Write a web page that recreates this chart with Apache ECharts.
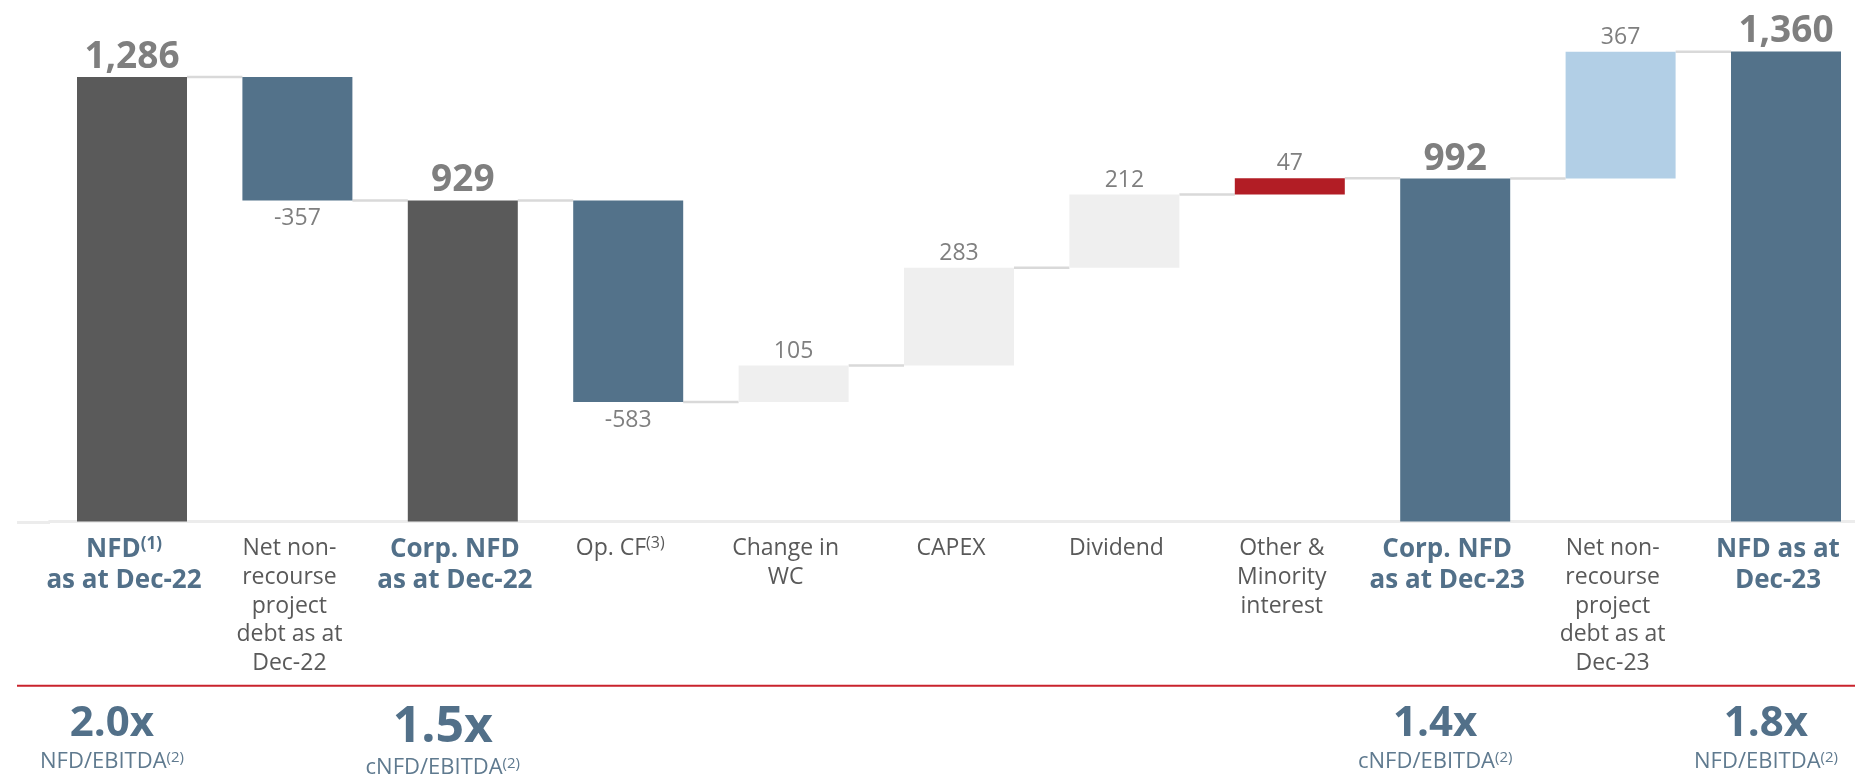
<!DOCTYPE html>
<html><head><meta charset="utf-8">
<script src="https://cdn.jsdelivr.net/npm/echarts@6/dist/echarts.min.js"></script>
<style>html,body{margin:0;padding:0;background:#fff}#c{width:1855px;height:779px}</style>
</head><body><div id="c"></div>
<script>
// ---- data ----
const categories = ['NFD^(1)\nas at Dec-22', 'Net non-\nrecourse\nproject\ndebt as at\nDec-22', 'Corp. NFD\nas at Dec-22', 'Op. CF^(3)', 'Change in\nWC', 'CAPEX', 'Dividend', 'Other &\nMinority\ninterest', 'Corp. NFD\nas at Dec-23', 'Net non-\nrecourse\nproject\ndebt as at\nDec-23', 'NFD as at\nDec-23'];
const values = [1286, -357, 929, -583, 105, 283, 212, 47, 992, 367, 1360];
const isTotal = [true, false, true, false, false, false, false, false, true, false, true];
const ratioValues = ['2.0x', '', '1.5x', '', '', '', '', '', '1.4x', '', '1.8x'];
const ratioNames = ['NFD/EBITDA^(2)', '', 'cNFD/EBITDA^(2)', '', '', '', '', '', 'cNFD/EBITDA^(2)', '', 'NFD/EBITDA^(2)'];

// ---- styles ----
const barColors = ['#5a5a5a', '#53728a', '#5a5a5a', '#53728a', '#efefef', '#efefef', '#efefef', '#b21d25', '#53728a', '#b2cfe6', '#53728a'];
const ratioShift = [20, 0, 4, 0, 0, 0, 0, 0, 20, 0, 8];
const FONT = "'Open Sans', 'Noto Sans', sans-serif";
const BLUE = '#527089';
const BAR_W = 110;

// ---- waterfall geometry from values ----
let run = 0; const base = [], height = [], level = [];
values.forEach((v, i) => {
  if (isTotal[i]) { base.push(0); height.push(v); run = v; }
  else { base.push(Math.min(run, run + v)); height.push(Math.abs(v)); run += v; }
  level.push(run);
});

function richLine(line, mainStyle, supStyle) {
  const k = line.indexOf('^');
  if (k < 0) return '{' + mainStyle + '|' + line + '}';
  return '{' + mainStyle + '|' + line.slice(0, k) + '}{' + supStyle + '|' + line.slice(k + 1) + '}';
}

const chart = echarts.init(document.getElementById('c'));
chart.setOption({
  animation: false,
  backgroundColor: '#ffffff',
  grid: { left: 49.3, width: 1819.4, top: 3, bottom: 257.5, containLabel: false, outerBoundsMode: 'none' },
  xAxis: [
    {
      type: 'category', data: categories, gridIndex: 0,
      axisLine: { show: true, lineStyle: { color: '#ececec', width: 3 } },
      axisTick: { show: false },
      axisLabel: {
        interval: 0, margin: 13, padding: [0, 16, 0, 0],
        fontFamily: FONT, fontSize: 23, color: '#595959', lineHeight: 28.7,
        formatter: (val, idx) => val.split('\n').map(l => isTotal[idx] ? richLine(l, 'b', 'bs') : richLine(l, 'r', 'rs')).join('\n'),
        rich: {
          r: { fontFamily: FONT, fontSize: 23, color: '#595959', lineHeight: 28.7 },
          rs: { fontFamily: FONT, fontSize: 16, color: '#595959', lineHeight: 16, verticalAlign: 'top', padding: [1, 0, 0, 0] },
          b: { fontFamily: FONT, fontSize: 26, fontWeight: 'bold', color: BLUE, lineHeight: 31 },
          bs: { fontFamily: FONT, fontSize: 17, fontWeight: 'bold', color: BLUE, lineHeight: 17, verticalAlign: 'top', padding: [1, 0, 0, 0] }
        }
      }
    },
    {
      type: 'category', data: categories, gridIndex: 0, position: 'bottom',
      axisLine: { show: false }, axisTick: { show: false },
      axisLabel: {
        interval: 0, margin: 180,
        formatter: (val, idx) => {
          if (!ratioValues[idx]) return '';
          const pad = ratioShift[idx] ? '{pad|}' : '';
          const big = idx === 2 ? 'big2' : 'big';
          return '{' + big + '|' + ratioValues[idx] + '}' + pad + '\n' + richLine(ratioNames[idx], 'sub', 'sup') + pad;
        },
        rich: {
          big: { fontFamily: FONT, fontSize: 42, fontWeight: 'bold', color: BLUE, lineHeight: 46 },
          big2: { fontFamily: FONT, fontSize: 50, fontWeight: 'bold', color: BLUE, lineHeight: 52 },
          sub: { fontFamily: FONT, fontSize: 22, color: '#5f7a8f', lineHeight: 29 },
          sup: { fontFamily: FONT, fontSize: 15, color: '#5f7a8f', lineHeight: 15, verticalAlign: 'top', padding: [3, 0, 0, 0] },
          pad: { width: 40 }
        }
      }
    }
  ],
  yAxis: { type: 'value', min: 0, max: 1500, show: false, splitLine: { show: false } },
  series: [
    {
      type: 'bar', stack: 'wf', barWidth: BAR_W, silent: true,
      itemStyle: { color: 'transparent' },
      data: base
    },
    {
      type: 'bar', stack: 'wf', barWidth: BAR_W,
      data: height.map((h, i) => ({
        value: h,
        itemStyle: { color: barColors[i] },
        label: isTotal[i]
          ? { show: true, position: 'top', distance: 1, fontFamily: FONT, fontSize: 37, fontWeight: 'bold', color: '#7f7f7f' }
          : { show: true, position: values[i] < 0 ? 'bottom' : 'top', distance: values[i] < 0 ? 7 : 3, fontFamily: FONT, fontSize: 23, color: '#7f7f7f' }
      })),
      label: { formatter: p => values[p.dataIndex].toLocaleString('en-US') }
    },
    {
      type: 'custom', z: 1, silent: true,
      renderItem: (params, api) => {
        const c = api.coord([api.value(0), api.value(1)]);
        const w = api.size([1, 0])[0];
        return { type: 'line', shape: { x1: c[0] + BAR_W / 2, y1: c[1], x2: c[0] + w - BAR_W / 2, y2: c[1] }, style: { stroke: '#d9d9d9', lineWidth: 2.5 } };
      },
      data: level.slice(0, -1).map((l, i) => [i, l])
    }
  ]
});

const y0 = chart.convertToPixel({ yAxisIndex: 0 }, 0);
chart.setOption({
  graphic: [
    { type: 'line', shape: { x1: 17, y1: y0 + 1, x2: 50, y2: y0 + 1 }, style: { stroke: '#ececec', lineWidth: 3 } },
    { type: 'line', shape: { x1: 17, y1: 685.7, x2: 1855, y2: 685.7 }, style: { stroke: '#c9232c', lineWidth: 2 } }
  ]
});
</script></body></html>
